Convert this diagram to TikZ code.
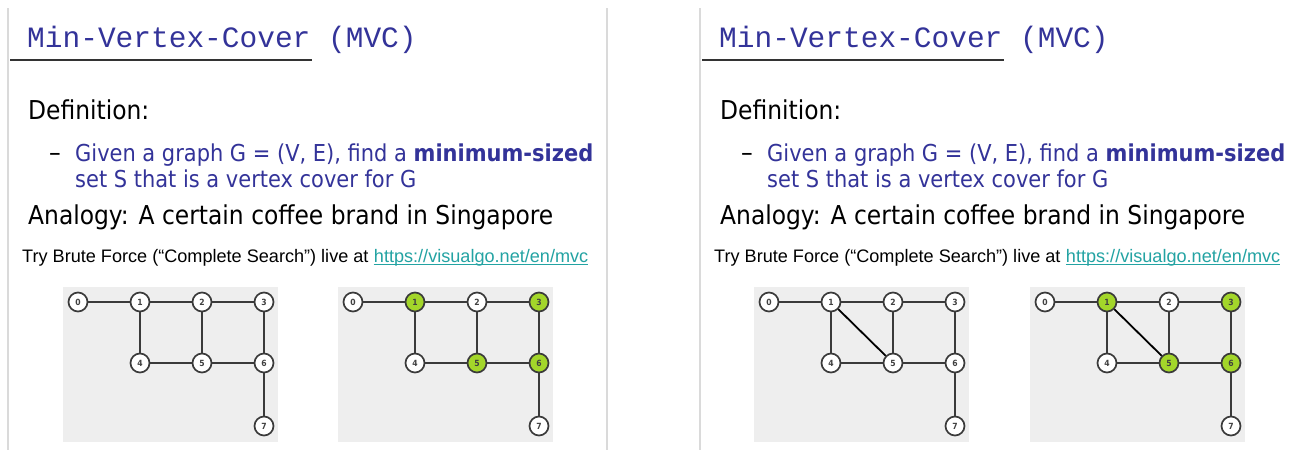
\documentclass[tikz,border=0pt]{standalone}
\usepackage{fontspec}
\setmainfont{DejaVu Sans Condensed}
\newfontfamily\arialfont{Liberation Sans}
\newfontfamily\courfont{Liberation Mono}
\definecolor{slideblue}{HTML}{333399}
\definecolor{linkteal}{HTML}{23A3A3}
\definecolor{panelgrey}{HTML}{EEEEEE}
\definecolor{edgegrey}{HTML}{3A3A3A}
\definecolor{covergreen}{HTML}{A3D62A}
\definecolor{bordergrey}{HTML}{DADADA}

\tikzset{
  vtx/.style={circle, draw=edgegrey, line width=1.7pt, fill=white, minimum size=19pt,
    inner sep=0pt, font=\fontsize{8.5}{9}\selectfont\bfseries, text=black!75},
  cover/.style={fill=covergreen},
  hl0/.style={}, hl1/.style={}, hl2/.style={}, hl3/.style={},
  hl4/.style={}, hl5/.style={}, hl6/.style={}, hl7/.style={},
  edge/.style={draw=edgegrey, line width=1.8pt},
  chord/.style={draw=black, line width=1.8pt},
  txt/.style={anchor=base west, inner sep=0pt},
  sep/.style={draw=bordergrey, line width=1.5pt},
}

% one graph panel: #1 name prefix, #2 x of vertex 0, #3 extra options (highlights)
\newcommand\mvcpanel[3]{%
  \begin{scope}[shift={(#2,0)}, #3]
    \fill[panelgrey] (-15,-287) rectangle (200,-442);
    \node[vtx, hl0] (#1v0) at (0,-302) {0};
    \node[vtx, hl1] (#1v1) at (62,-302) {1};
    \node[vtx, hl2] (#1v2) at (124,-302) {2};
    \node[vtx, hl3] (#1v3) at (186,-302) {3};
    \node[vtx, hl4] (#1v4) at (62,-363) {4};
    \node[vtx, hl5] (#1v5) at (124,-363) {5};
    \node[vtx, hl6] (#1v6) at (186,-363) {6};
    \node[vtx, hl7] (#1v7) at (186,-426) {7};
    \foreach \a/\b in {0/1,1/2,2/3,1/4,2/5,3/6,4/5,5/6,6/7}
      \draw[edge] (#1v\a) -- (#1v\b);
  \end{scope}}

% slide text block: #1 name prefix, #2 horizontal offset
\newcommand\slidetext[2]{%
  \begin{scope}[shift={(#2,0)}]
    \node[txt, font=\courfont\fontsize{29.5}{30}\selectfont, text=slideblue] (#1title)
      at (27,-47) {Min-Vertex-Cover (MVC)};
    \draw[line width=2pt, black!80] (10,-60) -- (312,-60);
    \node[txt, font=\fontsize{26}{28}\selectfont] (#1def) at (28,-119) {Definition:};
    \node[txt, font=\fontsize{26}{25}\selectfont, text=black] (#1dash) at (49,-161) {–};
    \node[txt, font=\fontsize{23.3}{25}\selectfont, text=slideblue] (#1l1) at (75,-161)
      {Given a graph G = (V, E), find a \textbf{minimum-sized}};
    \node[txt, font=\fontsize{23.3}{25}\selectfont, text=slideblue] (#1l2) at (75,-187)
      {set S that is a vertex cover for G};
    \node[txt, font=\fontsize{26}{28}\selectfont] (#1ana) at (28,-224)
      {Analogy: A certain coffee brand in Singapore};
    \node[txt, font=\arialfont\fontsize{18.1}{20}\selectfont] (#1try) at (22,-262)
      {Try Brute Force (“Complete Search”) live at};
    \node[txt, font=\arialfont\fontsize{18.1}{20}\selectfont, text=linkteal] (#1link)
      at ([xshift=5pt]#1try.base east) {https://visualgo.net/en/mvc};
    \draw[linkteal, line width=1.1pt] ([yshift=-2.5pt]#1link.base west) -- ([yshift=-2.5pt]#1link.base east);
  \end{scope}}

\begin{document}
\begin{tikzpicture}[x=1pt, y=1pt]
  \useasboundingbox (0,0) rectangle (1296,-450);
  \fill[white] (0,0) rectangle (1296,-450);

  % slide borders
  \draw[sep] (8,-8) -- (8,-450);
  \draw[sep] (607,-8) -- (607,-450);
  \draw[sep] (700,-8) -- (700,-450);

  \slidetext{a}{0}
  \slidetext{b}{692}

  \mvcpanel{p}{78}{}
  \mvcpanel{q}{353}{hl1/.style={cover}, hl3/.style={cover}, hl5/.style={cover}, hl6/.style={cover}}
  \mvcpanel{r}{769}{}
  \draw[chord] (rv1) -- (rv5);
  \mvcpanel{s}{1045}{hl1/.style={cover}, hl3/.style={cover}, hl5/.style={cover}, hl6/.style={cover}}
  \draw[chord] (sv1) -- (sv5);
\end{tikzpicture}
\end{document}
